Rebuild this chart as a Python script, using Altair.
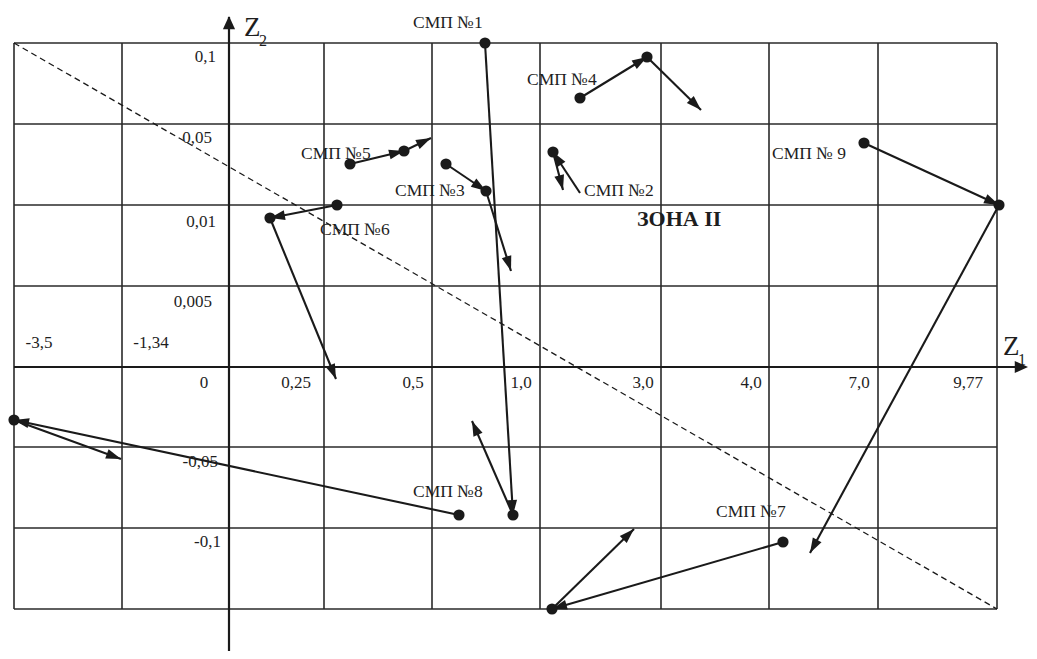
import math
import altair as alt
import pandas as pd

# Diagram coordinates (u along Z1, v along Z2, origin where the axes cross)
grid_u = [-215, -107, 95, 203, 311, 432, 540, 649, 768]
grid_v = [324, 243, 162, 81, -80, -161, -242]
u_min, u_max = -215, 768
v_min, v_max = -242, 324

# Z1 tick labels
z1_labels = ["0", "0,25", "0,5", "1,0", "3,0", "4,0", "7,0", "9,77"]
z1_label_u = [-25, 67, 184, 292, 414, 522, 630, 739]
z1_label_v = [-16] * 8
z1_neg_labels = ["-3,5", "-1,34"]
z1_neg_u = [-190, -78]
z1_neg_v = [24, 24]

# Z2 tick labels
z2_labels = ["0,1", "0,05", "0,01", "0,005", "-0,05", "-0,1"]
z2_label_u = [-13, -17, -13, -17, -11, -8]
z2_label_v = [310, 229, 145, 65, -95, -175]

# Trajectories of each СМП (consecutive positions)
smp_names = ["СМП №1", "СМП №2", "СМП №3", "СМП №4", "СМП №5",
             "СМП №6", "СМП №7", "СМП №8", "СМП № 9"]
smp_paths = [
    [(256, 324), (284, -148), (243, -54)],
    [(351, 174), (324, 215), (334, 177)],
    [(217, 203), (257, 176), (282, 96)],
    [(351, 269), (418, 310), (472, 257)],
    [(121, 203), (175, 216), (202, 229)],
    [(108, 162), (41, 149), (107, -12)],
    [(554, -175), (323, -242), (405, -162)],
    [(230, -148), (-215, -53), (-108, -92)],
    [(635, 224), (770, 162), (581, -186)],
]
smp_dots = [
    [1, 1, 0], [0, 1, 0], [1, 1, 0], [1, 1, 0], [1, 1, 0],
    [1, 1, 0], [1, 1, 0], [1, 1, 0], [1, 1, 0],
]
smp_label_u = [184, 355, 166, 298, 72, 91, 487, 184, 543]
smp_label_v = [344, 176, 176, 287, 213, 137, -145, -125, 213]

zone_label = "ЗОНА II"
zone_u, zone_v = 408, 148

# ---------------------------------------------------------------
W, H = 1021, 643
xs = alt.Scale(domain=[-221, 800], nice=False, zero=False)
ys = alt.Scale(domain=[-284, 359], nice=False, zero=False)
FONT = "Liberation Serif"
INK = "#1a1a1a"


def ang(du, dv):
    return (math.degrees(math.atan2(du, dv)) + 360) % 360


def enc_line(chart):
    return chart.encode(
        x=alt.X("u:Q", scale=xs, axis=None),
        y=alt.Y("v:Q", scale=ys, axis=None),
        x2="u2:Q",
        y2="v2:Q",
    )


def enc_pt(chart):
    return chart.encode(
        x=alt.X("u:Q", scale=xs, axis=None),
        y=alt.Y("v:Q", scale=ys, axis=None),
    )


grid_rows = []
for g in grid_u:
    grid_rows.append({"u": g, "v": v_min, "u2": g, "v2": v_max})
for g in grid_v:
    grid_rows.append({"u": u_min, "v": g, "u2": u_max, "v2": g})
grid = enc_line(alt.Chart(pd.DataFrame(grid_rows)).mark_rule(
    color="#2a2a2a", strokeWidth=1.6))

axes_df = pd.DataFrame([
    {"u": u_min, "v": 0, "u2": 796, "v2": 0},
    {"u": 0, "v": -284, "u2": 0, "v2": 350},
])
axes = enc_line(alt.Chart(axes_df).mark_rule(color=INK, strokeWidth=2.2))

axis_heads_df = pd.DataFrame([
    {"u": 0, "v": 351, "angle": 0},
    {"u": 799, "v": 0, "angle": 90},
])
tri_axis = "M0,0L-0.46,1L0.46,1Z"
axis_heads = enc_pt(alt.Chart(axis_heads_df).mark_point(
    shape=tri_axis, filled=True, size=700, color=INK, opacity=1)).encode(
    angle=alt.Angle("angle:Q", scale=None))

diag_df = pd.DataFrame([{"u": u_min, "v": v_max, "u2": u_max, "v2": v_min}])
diag = enc_line(alt.Chart(diag_df).mark_rule(
    color=INK, strokeWidth=1.3, strokeDash=[6, 4]))

seg_rows, head_rows, dot_rows = [], [], []
for name, path, dots in zip(smp_names, smp_paths, smp_dots):
    for (a, b) in zip(path[:-1], path[1:]):
        seg_rows.append({"u": a[0], "v": a[1], "u2": b[0], "v2": b[1]})
        head_rows.append({"u": b[0], "v": b[1],
                          "angle": ang(b[0] - a[0], b[1] - a[1])})
    for p, d in zip(path, dots):
        if d:
            dot_rows.append({"u": p[0], "v": p[1]})

segs = enc_line(alt.Chart(pd.DataFrame(seg_rows)).mark_rule(
    color=INK, strokeWidth=2.1))
tri = "M0,0L-0.33,1L0.33,1Z"
heads = enc_pt(alt.Chart(pd.DataFrame(head_rows)).mark_point(
    shape=tri, filled=True, size=900, color=INK, opacity=1)).encode(
    angle=alt.Angle("angle:Q", scale=None))
dots_layer = enc_pt(alt.Chart(pd.DataFrame(dot_rows)).mark_circle(
    size=125, color=INK, opacity=1))


def text_layer(labels, us, vs, align, size=17, weight="normal"):
    df = pd.DataFrame({"t": labels, "u": us, "v": vs})
    return enc_pt(alt.Chart(df).mark_text(
        font=FONT, fontSize=size, fontWeight=weight, align=align,
        baseline="middle", color="#1e1e1e")).encode(text="t:N")


t_z1 = text_layer(z1_labels, z1_label_u, z1_label_v, "center")
t_z1n = text_layer(z1_neg_labels, z1_neg_u, z1_neg_v, "center")
t_z2 = text_layer(z2_labels, z2_label_u, z2_label_v, "right")
t_smp = text_layer(smp_names, smp_label_u, smp_label_v, "left", size=17.5)
t_zone = text_layer([zone_label], [zone_u], [zone_v], "left", size=22,
                    weight="bold")
t_axis_big = text_layer(["Z", "Z"], [15, 774], [339, 20], "left", size=27)
t_axis_sub = text_layer(["2", "1"], [30, 789], [326, 7], "left", size=16)

chart = alt.layer(
    grid, axes, diag, segs, heads, dots_layer, axis_heads,
    t_z1, t_z1n, t_z2, t_smp, t_zone, t_axis_big, t_axis_sub,
).properties(
    width=W, height=H,
    autosize=alt.AutoSizeParams(type="none"),
    padding=0,
    background="white",
).configure_view(stroke=None)

chart.save("out.html", embed_options={"renderer": "svg", "actions": False})
